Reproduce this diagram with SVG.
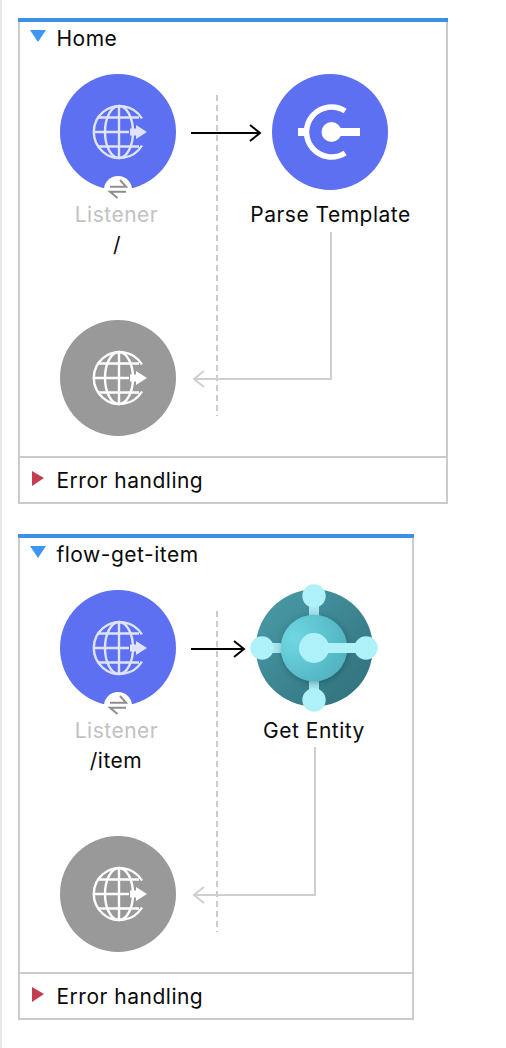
<svg xmlns="http://www.w3.org/2000/svg" width="506" height="1048" viewBox="0 0 506 1048">
<style>
text{font-family:"Inter","Liberation Sans",sans-serif;font-size:21px;letter-spacing:0.5px;fill:#0a0a0a}
.c{text-anchor:middle}
.mute{fill:#c2c2c2}
.box{fill:#fff;stroke:#cbcbcb;stroke-width:2}
.bar{fill:#3f8fe4}
.div{stroke:#cbcbcb;stroke-width:2;fill:none}
.dash{stroke:#cbcbcb;stroke-width:2;stroke-dasharray:6 4;fill:none}
.flow{stroke:#000;stroke-width:2;fill:none}
.ret{stroke:#cfcfcf;stroke-width:2;fill:none}
.g{fill:none;stroke-width:2.400}
</style>
<defs>
<marker id="ah" markerUnits="userSpaceOnUse" markerWidth="14" markerHeight="20" refX="12" refY="10" orient="auto"><path d="M2 2L12 10L2 18" fill="none" stroke="#000" stroke-width="2"/></marker>
<marker id="ahr" markerUnits="userSpaceOnUse" markerWidth="14" markerHeight="20" refX="12" refY="10" orient="auto"><path d="M2 2L12 10L2 18" fill="none" stroke="#cfcfcf" stroke-width="2"/></marker>
<g id="globe">
<path class="g" d="M23 -13.500A26 26 0 1 0 23 13.500"/>
<ellipse class="g" cx="0" cy="0" rx="14" ry="26"/>
<path class="g" d="M0 -26V26M-26 0H10M-21 -14.500H20M-21 14.500H20"/>
<path d="M11 -3.500H17V-7L28 0L17 7V3.500H11Z" stroke="none"/>
</g>
<g id="sync" fill="none" stroke="#8e8e8e" stroke-width="2"><path d="M110 186.700H126L120 180M126 191.700H110L117.500 198"/></g>
<radialGradient id="hub" cx="0.2" cy="0.35" r="0.9"><stop offset="0" stop-color="#6fd8e2"/><stop offset="1" stop-color="#4eb0bd"/></radialGradient>
<linearGradient id="rim" x1="0" y1="0" x2="1" y2="1"><stop offset="0" stop-color="#4a9eaa"/><stop offset="1" stop-color="#2f6d79"/></linearGradient>
<filter id="soft" x="-30%" y="-30%" width="160%" height="160%"><feDropShadow dx="1" dy="1.500" stdDeviation="3" flood-color="#0b3a44" flood-opacity="0.45"/></filter>
</defs>
<rect width="506" height="1048" fill="#fff"/>
<rect x="0" y="0" width="2" height="1048" fill="#e8e8e8"/>

<g id="flow-home">
<rect class="box" x="19" y="19" width="428" height="484"/>
<rect class="bar" x="18" y="18" width="430" height="4"/>
<path d="M30 30H46L38 42Z" fill="#3f95f2"/>
<text x="56.500" y="45.500">Home</text>
<path class="div" d="M19 457H447"/>
<path d="M32 471L44 478L32 486Z" fill="#c43c50"/>
<text x="56.500" y="487.500">Error handling</text>
</g>

<g id="flow-item">
<rect class="box" x="19" y="535" width="394" height="484"/>
<rect class="bar" x="18" y="534" width="396" height="4"/>
<path d="M30 546H46L38 558Z" fill="#3f95f2"/>
<text x="56.500" y="561.500">flow-get-item</text>
<path class="div" d="M19 973H413"/>
<path d="M32 987L44 994L32 1002Z" fill="#c43c50"/>
<text x="56.500" y="1003.500">Error handling</text>
</g>

<g id="connectors">
<path class="dash" d="M217 95V416"/>
<path class="dash" d="M217 611V932"/>
<path class="flow" d="M191 133H260" marker-end="url(#ah)"/>
<path class="ret" d="M331 232V379H194" marker-end="url(#ahr)"/>
<path class="flow" d="M191 649H244" marker-end="url(#ah)"/>
<path class="ret" d="M315 747V895H194" marker-end="url(#ahr)"/>
</g>

<g id="listener-home">
<circle cx="118" cy="132" r="58" fill="#5c70f1"/>
<use href="#globe" x="119" y="132" fill="#dfe3fb" stroke="#dfe3fb"/>
<circle cx="118" cy="190" r="14" fill="#fff"/>
<use href="#sync"/>
<text class="c mute" x="116.500" y="221.500">Listener</text>
<text class="c" x="117" y="252">/</text>
</g>

<g id="parse-template">
<circle cx="330" cy="132" r="58" fill="#5c70f1"/>
<path d="M345.100 111A25 25 0 1 0 345.100 153" fill="none" stroke="#fff" stroke-width="5.500"/>
<path d="M298 128H306V136H298Z" fill="#fff"/>
<circle cx="331.500" cy="132" r="10" fill="#fff"/>
<path d="M331 128H360V136H331Z" fill="#fff"/>
<text class="c" x="330.500" y="221.500">Parse Template</text>
</g>

<g id="listener-home-response">
<circle cx="118" cy="378" r="58" fill="#999"/>
<use href="#globe" x="119" y="378" fill="#fff" stroke="#fff"/>
</g>

<g id="listener-item">
<circle cx="118" cy="648" r="58" fill="#5c70f1"/>
<use href="#globe" x="119" y="648" fill="#dfe3fb" stroke="#dfe3fb"/>
<circle cx="118" cy="706" r="14" fill="#fff"/>
<use href="#sync" y="516"/>
<text class="c mute" x="116.500" y="737.500">Listener</text>
<text class="c" x="116" y="768">/item</text>
</g>

<g id="get-entity">
<circle cx="314.300" cy="648" r="58.500" fill="url(#rim)"/>
<path d="M314 598V698M264 648H314" stroke="#a9e6ee" stroke-width="10" fill="none"/>
<circle cx="314" cy="648" r="33.300" fill="url(#hub)" filter="url(#soft)"/>
<path d="M314 648H366" stroke="#aef1f8" stroke-width="10" fill="none"/>
<circle cx="314" cy="648" r="15" fill="#aef1f8"/>
<circle cx="314" cy="596" r="11.700" fill="#aef1f8"/>
<circle cx="314" cy="700" r="11.700" fill="#aef1f8"/>
<circle cx="262" cy="648" r="11.700" fill="#aef1f8"/>
<circle cx="366" cy="648" r="11.700" fill="#aef1f8"/>
<text class="c" x="314" y="737.500">Get Entity</text>
</g>

<g id="listener-item-response">
<circle cx="118" cy="894" r="58" fill="#999"/>
<use href="#globe" x="119" y="894" fill="#fff" stroke="#fff"/>
</g>
</svg>
